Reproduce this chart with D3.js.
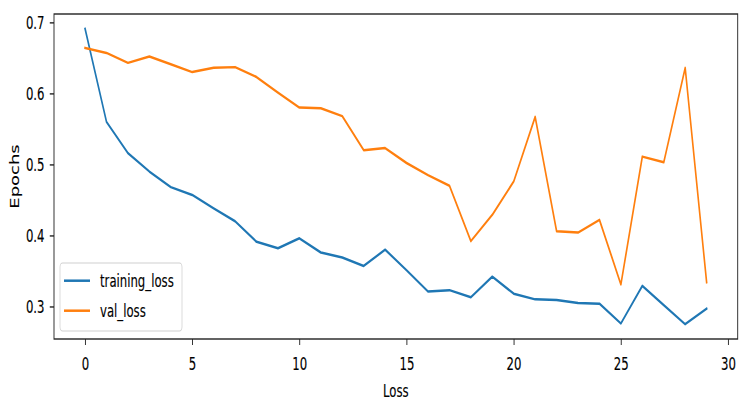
<!DOCTYPE html>
<html><head><meta charset="utf-8">
<script src="https://cdn.jsdelivr.net/npm/d3@7"></script>
<style>
body{margin:0;background:#fff;}
svg text{font-family:"DejaVu Sans",sans-serif;fill:#000;stroke:#000;stroke-width:0.15px;}
</style>
</head><body>
<svg id="chart" width="746" height="415"></svg>
<script>
const epochs = [0,1,2,3,4,5,6,7,8,9,10,11,12,13,14,15,16,17,18,19,20,21,22,23,24,25,26,27,28,29];
const trainingLoss = [0.691,0.560,0.516,0.490,0.468,0.457,0.438,0.420,0.391,0.382,0.396,0.376,0.369,0.357,0.380,0.351,0.321,0.323,0.313,0.342,0.318,0.310,0.309,0.305,0.304,0.276,0.329,0.302,0.275,0.297];
const valLoss = [0.664,0.657,0.643,0.652,0.641,0.630,0.636,0.637,0.623,0.601,0.580,0.579,0.568,0.520,0.523,0.502,0.485,0.470,0.392,0.429,0.476,0.567,0.406,0.404,0.422,0.331,0.511,0.503,0.636,0.334];
const seriesNames = ["training_loss","val_loss"];
const seriesColors = ["#1f77b4","#ff7f0e"];
const xTicks = [0,5,10,15,20,25,30];
const yTicks = [0.3,0.4,0.5,0.6,0.7];
const xLabel = "Loss";
const yLabel = "Epochs";

(function(){
const SX = 0.65;            // horizontal squeeze of the original picture
const pLeft = 54, pRight = 737.7, pTop = 14, pBottom = 339;
const FS = 18;
const LW = 2.5;

const svg = d3.select("#chart");
const g = svg.append("g").attr("transform", `scale(${SX},1)`);
const px = v => v / SX;

const xExt = d3.extent(epochs), xPad = (xExt[1]-xExt[0])*0.05;
const x = d3.scaleLinear().domain([xExt[0]-xPad, xExt[1]+xPad]).range([px(pLeft), px(pRight)]);
const yExt = d3.extent(trainingLoss.concat(valLoss)), yPad = (yExt[1]-yExt[0])*0.05;
const y = d3.scaleLinear().domain([yExt[0]-yPad, yExt[1]+yPad]).range([pBottom, pTop]);

// axes
const gx = g.append("g").attr("transform", `translate(0,${pBottom})`)
  .call(d3.axisBottom(x).tickValues(xTicks).tickFormat(d3.format("d")).tickSize(6).tickSizeOuter(0));
gx.select(".domain").remove();
gx.selectAll(".tick line").attr("stroke","#111").attr("stroke-width",1.3);
gx.selectAll(".tick text").attr("y",null).attr("dy",null).attr("transform","translate(0,31)")
  .style("font-size",FS+"px").style("font-family","DejaVu Sans");

const gy = g.append("g").attr("transform", `translate(${px(pLeft)},0)`)
  .call(d3.axisLeft(y).tickValues(yTicks).tickFormat(d3.format(".1f")).tickSize(6.5).tickSizeOuter(0));
gy.select(".domain").remove();
gy.selectAll(".tick line").attr("stroke","#111").attr("stroke-width",1.3);
gy.selectAll(".tick text").attr("x", -px(pLeft-44.5)).attr("dy","0.36em")
  .style("font-size",FS+"px").style("font-family","DejaVu Sans");

// lines
const series = [trainingLoss, valLoss];
const line = d3.line().x((d,i)=>x(epochs[i])).y(d=>y(d));
series.forEach((s,k)=>{
  g.append("path").datum(s).attr("d",line).attr("fill","none")
   .attr("stroke",seriesColors[k]).attr("stroke-width",LW)
   .attr("stroke-linejoin","round").attr("stroke-linecap","square");
});

// frame
g.append("rect").attr("x",px(pLeft)).attr("y",pTop).attr("width",px(pRight)-px(pLeft)).attr("height",pBottom-pTop)
  .attr("fill","none").attr("stroke","#222").attr("stroke-width",1.4);

// axis labels
g.append("text").attr("x",(px(pLeft)+px(pRight))/2).attr("y",397.5).attr("text-anchor","middle")
  .style("font-size",FS+"px").text(xLabel);
g.append("text").attr("transform",`translate(${px(18.5)},${(pTop+pBottom)/2}) rotate(-90)`)
  .attr("text-anchor","middle").style("font-size",FS+"px").text(yLabel);

// legend
const lg = g.append("g");
lg.append("rect").attr("x",px(60)).attr("y",263).attr("width",px(182)-px(60)).attr("height",68)
  .attr("rx",4).attr("ry",4).attr("fill","#fff").attr("fill-opacity",0.8)
  .attr("stroke","#d0d0d0").attr("stroke-width",1.2);
const legY = [280.7, 310.7];
seriesNames.forEach((n,k)=>{
  lg.append("line").attr("x1",px(64)).attr("x2",px(90)).attr("y1",legY[k]).attr("y2",legY[k])
    .attr("stroke",seriesColors[k]).attr("stroke-width",LW);
  lg.append("text").attr("x",px(100)).attr("y",legY[k]).attr("dy","0.35em")
    .style("font-size",FS+"px").text(n);
});
})();
</script>
</body></html>
